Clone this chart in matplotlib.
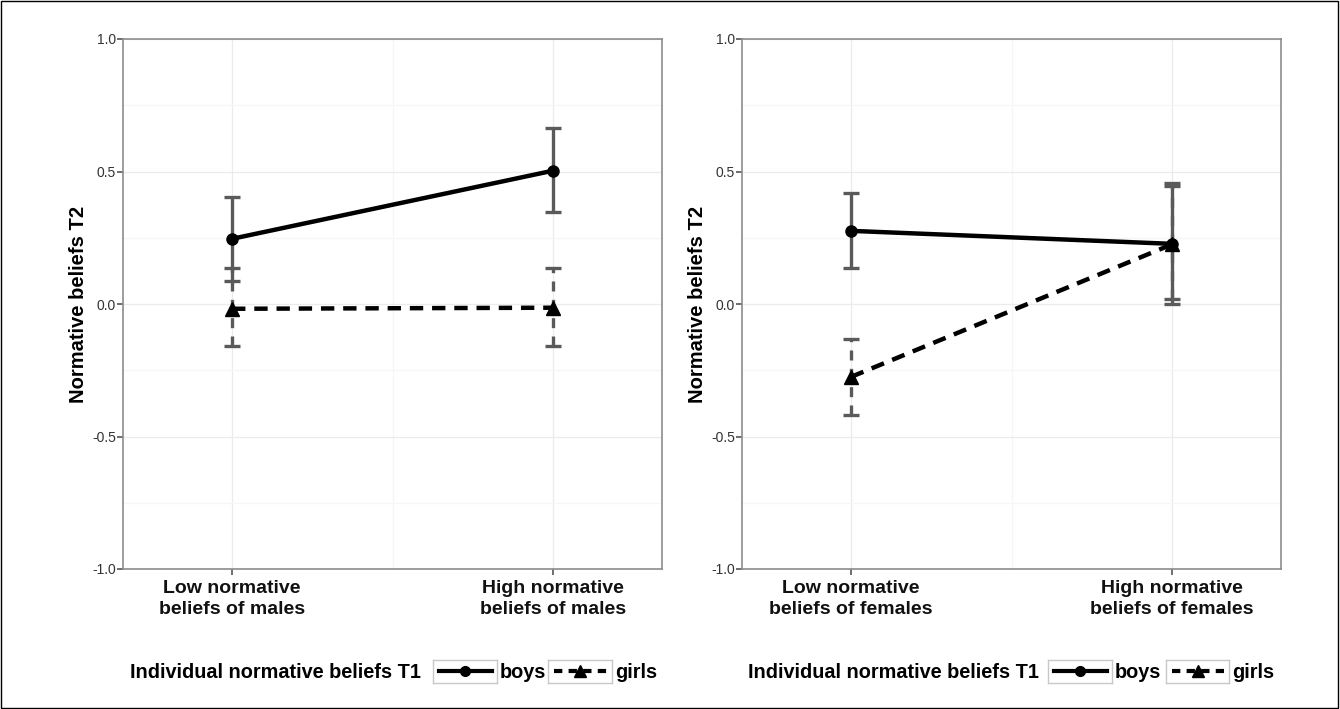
import numpy as np
import matplotlib.pyplot as plt
from matplotlib.patches import Rectangle
from matplotlib.lines import Line2D

plt.rcParams['font.family'] = ['Liberation Sans', 'DejaVu Sans']

# data
cats_male = ['Low normative\nbeliefs of males', 'High normative\nbeliefs of males']
cats_female = ['Low normative\nbeliefs of females', 'High normative\nbeliefs of females']

male_boys = [0.246, 0.503]
male_boys_lo = [0.087, 0.348]
male_boys_hi = [0.405, 0.664]
male_girls = [-0.018, -0.014]
male_girls_lo = [-0.16, -0.16]
male_girls_hi = [0.136, 0.137]

female_boys = [0.276, 0.227]
female_boys_lo = [0.136, 0.0]
female_boys_hi = [0.42, 0.455]
female_girls = [-0.275, 0.225]
female_girls_lo = [-0.417, 0.019]
female_girls_hi = [-0.133, 0.445]

legend_title = 'Individual normative beliefs T1'
series_names = ['boys', 'girls']

W, H = 1340, 709
fig = plt.figure(figsize=(W / 100, H / 100), dpi=100)
fig.patches.append(Rectangle((0.0005, 0.001), 0.998, 0.997, transform=fig.transFigure,
                             fill=False, edgecolor='black', lw=1))


def px(x0, y0, x1, y1):
    # pixel box (top-left origin) -> figure fraction rect
    return [x0 / W, 1 - y1 / H, (x1 - x0) / W, (y1 - y0) / H]


def draw_panel(ax, cats, boys, blo, bhi, girls, glo, ghi):
    x = np.arange(len(cats))
    ax.set_xlim(-0.34, 1.34)
    ax.set_ylim(-1, 1)
    ax.set_yticks([-1, -0.5, 0, 0.5, 1])
    ax.set_yticklabels(['-1.0', '-0.5', '0.0', '0.5', '1.0'])
    ax.set_yticks([-0.75, -0.25, 0.25, 0.75], minor=True)
    ax.set_xticks(x)
    ax.set_xticks([0.5], minor=True)
    ax.set_xticklabels(cats, fontsize=14, fontweight='bold', color='#111111', linespacing=1.3)
    ax.grid(which='major', color='#ebebeb', lw=0.9)
    ax.grid(which='minor', color='#f6f6f6', lw=0.9)
    ax.set_axisbelow(True)
    for s in ax.spines.values():
        s.set_color('#8c8c8c')
        s.set_linewidth(1.2)
    ax.tick_params(axis='both', which='major', length=4, color='#555555', width=1.2)
    ax.tick_params(axis='y', labelsize=10, labelcolor='#333333', pad=1)
    ax.tick_params(axis='x', pad=4)
    ax.tick_params(which='minor', length=0)
    ax.set_ylabel('Normative beliefs T2', fontsize=14.5, fontweight='bold', labelpad=3)

    boys = np.array(boys)
    girls = np.array(girls)
    ax.errorbar(x, boys, yerr=[boys - np.array(blo), np.array(bhi) - boys],
                fmt='none', ecolor='#5a5a5a', elinewidth=2.4, capsize=5.5, capthick=2.4, zorder=3)
    eg = ax.errorbar(x, girls, yerr=[girls - np.array(glo), np.array(ghi) - girls],
                     fmt='none', ecolor='#5a5a5a', elinewidth=2.4, capsize=5.5, capthick=2.4, zorder=3)
    eg[2][0].set_linestyle((0, (3, 2.5)))
    ax.plot(x, boys, color='black', lw=3.2, marker='o', ms=8, zorder=4)
    ax.plot(x, girls, color='black', lw=3.2, ls=(0, (3, 2)), marker='^', ms=10, zorder=4)


def draw_legend(title_x, box1, box2, yc=671):
    fig.text(title_x / W, 1 - yc / H, legend_title, fontsize=14.3, fontweight='bold',
             ha='left', va='center_baseline')
    styles = [dict(ls='-', marker='o', ms=7), dict(ls=(0, (2, 1.5)), marker='^', ms=8)]
    for (b0, b1), st, name in zip([box1, box2], styles, series_names):
        kax = fig.add_axes(px(b0, yc - 11.5, b1, yc + 11.5))
        kax.set_xlim(0, 1)
        kax.set_ylim(0, 1)
        kax.set_xticks([])
        kax.set_yticks([])
        for s in kax.spines.values():
            s.set_color('#c8c8c8')
            s.set_linewidth(1)
        kax.add_line(Line2D([0.1, 0.92], [0.5, 0.5], color='black', lw=3, ls=st['ls']))
        kax.plot([0.5], [0.5], color='black', marker=st['marker'], ms=st['ms'])
        fig.text((b1 + 3) / W, 1 - yc / H, name, fontsize=14.3, fontweight='bold',
                 ha='left', va='center_baseline')


ax1 = fig.add_axes(px(123, 39, 662, 569))
draw_panel(ax1, cats_male, male_boys, male_boys_lo, male_boys_hi,
           male_girls, male_girls_lo, male_girls_hi)
ax2 = fig.add_axes(px(742, 39, 1281, 569))
draw_panel(ax2, cats_female, female_boys, female_boys_lo, female_boys_hi,
           female_girls, female_girls_lo, female_girls_hi)

draw_legend(130, (433, 497), (548, 612))
draw_legend(748, (1048, 1112), (1166, 1229))

fig.savefig('out.png', dpi=100)
